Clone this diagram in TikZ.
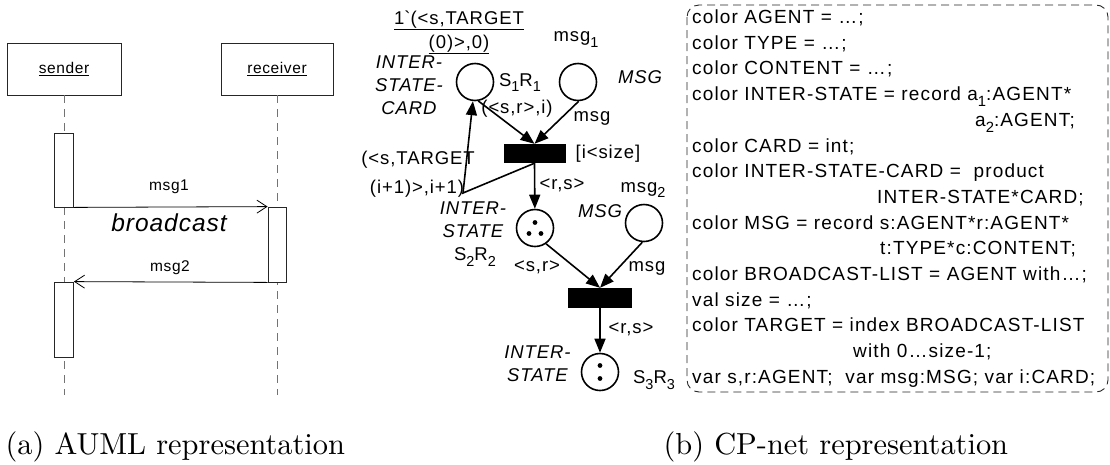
\documentclass[tikz,border=0pt]{standalone}
\usepackage{fontspec}
\usetikzlibrary{arrows.meta,calc}
\newfontfamily\seqfont[LetterSpace=4]{Liberation Sans}
\newfontfamily\netfont[LetterSpace=5]{Liberation Sans}
\newfontfamily\declfont[LetterSpace=6]{Liberation Sans}
\newcommand\seqsz{\seqfont\fontsize{15.5}{18}\selectfont}
\newcommand\netsz{\netfont\fontsize{18.5}{23}\selectfont}
\newcommand\declsz{\declfont\fontsize{19}{25.7}\selectfont}
% lowered, reduced index as in S1R1
\newcommand\idx[1]{\raisebox{-0.3em}{\scalebox{0.78}{#1}}}
\begin{document}
\begin{tikzpicture}[x=1pt,y=-1pt,
  objbox/.style={draw=black!85, line width=0.8pt, minimum height=52pt, inner sep=0pt, font=\seqsz},
  lifeline/.style={draw=black!55, line width=1pt, dash pattern=on 8pt off 6pt},
  actbar/.style={draw=black!85, fill=white, line width=0.8pt, minimum width=19pt, minimum height=75pt, inner sep=0pt},
  msgarrow/.style={line width=0.8pt, -{Straight Barb[length=10pt,width=13pt,line width=0.8pt]}},
  seqlab/.style={inner sep=0pt, font=\seqsz},
  place/.style={circle, draw, line width=1.6pt, minimum size=37pt, inner sep=0pt},
  trans/.style={fill=black, minimum width=62pt, minimum height=19pt, inner sep=0pt},
  arc/.style={line width=1.6pt, -{Triangle[length=14pt,width=11pt]}},
  netlab/.style={inner sep=0pt, font=\netsz, align=center},
  decl/.style={inner sep=0pt, anchor=base west, font=\declsz},
  capt/.style={inner sep=0pt, scale=3.04, anchor=west}
]
\useasboundingbox (0,0) rectangle (1110,464);

% ---------- sequence diagram ----------
\node[objbox, minimum width=114pt] (snd) at (64,69) {\underline{sender}};
\node[objbox, minimum width=112pt] (rcv) at (277,69) {\underline{receiver}};
\coordinate (sndend) at (64,395);
\coordinate (rcvend) at (277,395);
\draw[lifeline] (snd.south) -- (sndend);
\draw[lifeline] (rcv.south) -- (rcvend);

\node[actbar, minimum height=74pt] (sb1) at (64,170) {};
\node[actbar, minimum width=18pt] (rb) at (277,244.5) {};
\node[actbar] (sb2) at (64,319.5) {};

\draw[msgarrow] (sb1.south east) -- (rb.north west);
\draw[msgarrow] (rb.south west) -- (sb2.north east);

\node[seqlab] (m1) at (169,187) {msg1};
\node[inner sep=0pt, font=\seqfont\itshape\fontsize{24.5}{28}\selectfont] (bc) at (169,223) {broadcast};
\node[seqlab] (m2) at (170,268) {msg2};

% ---------- CP-net ----------
\node[place] (p1) at (475,82) {};
\node[place] (p2) at (578,82) {};
\node[trans] (t1) at (534.5,153.5) {};
\node[place] (p3) at (535,228) {};
\node[place] (p4) at (644,223) {};
\node[trans, minimum width=64pt, minimum height=20pt] (t2) at (600,298) {};
\node[place] (p5) at (600,372) {};

\fill ($(p3)+(0,-5.5)$) circle (2.4);
\fill ($(p3)+(-6,5.5)$) circle (2.4);
\fill ($(p3)+(6,5.5)$) circle (2.4);
\fill ($(p5)+(0,-6.5)$) circle (2.4);
\fill ($(p5)+(0,6.5)$) circle (2.4);

\coordinate (bend) at (463,193);
\draw[arc] (p1.-80) -- (t1.north);
\draw[arc] (p2.-88) -- (t1.north);
\draw[arc] (t1.south) -- (bend) -- (p1);
\draw[arc] (t1.south) -- (p3);
\draw[arc] (p3.-55) -- (t2.north);
\draw[arc] (p4.-95) -- (t2.north);
\draw[arc] (t2.south) -- (p5);

\node[netlab, anchor=base] (init1) at (459,24) {\underline{1\textasciigrave(<s,TARGET}};
\node[netlab, anchor=base] (init2) at (459,48) {\underline{(0)>,0)}};
\node[netlab, anchor=base] (n1) at (576,41.5) {msg\idx{1}};
\node[netlab, font=\netsz\itshape] (c1) at (409,85.5) {INTER-\\STATE-\\CARD};
\node[netlab] (s1) at (520,82.5) {S\idx{1}R\idx{1}};
\node[netlab, font=\netsz\itshape] (c2) at (640,77.5) {MSG};
\node[netlab] (a1) at (517,109) {(<s,r>,i)};
\node[netlab, anchor=base] (a2) at (592,121.5) {msg};
\node[netlab] (g1) at (608,154) {[i<size]};
\node[netlab] (a3) at (418,160) {(<s,TARGET};
\node[netlab] (a3b) at (417,189) {(i+1)>,i+1)};
\node[netlab] (a4) at (562,185) {<r,s>};
\node[netlab, font=\netsz\itshape] (c3) at (473,220) {INTER-\\STATE};
\node[netlab] (s2) at (475,257) {S\idx{2}R\idx{2}};
\node[netlab] (a5) at (537,267) {<s,r>};
\node[netlab, anchor=base] (n2) at (643,192) {msg\idx{2}};
\node[netlab, font=\netsz\itshape] (c4) at (600,211) {MSG};
\node[netlab, anchor=base] (a6) at (647,271.5) {msg};
\node[netlab] (a7) at (631,329) {<r,s>};
\node[netlab, font=\netsz\itshape] (c5) at (537.5,363.3) {INTER-\\STATE};
\node[netlab] (s3) at (654,380) {S\idx{3}R\idx{3}};

% ---------- declarations ----------
\draw[black!85, line width=0.9pt, dash pattern=on 8pt off 5pt, rounded corners=12pt]
  (687,5) rectangle (1108,392);
\node[decl] (d1) at (692,23.5) {color AGENT = …;};
\node[decl] (d2) at (692,49.2) {color TYPE = …;};
\node[decl] (d3) at (692,74.9) {color CONTENT = …;};
\node[decl] (d4) at (692,100.6) {color INTER-STATE = record a\idx{1}:AGENT*};
\node[decl] (d5) at (975,126.3) {a\idx{2}:AGENT;};
\node[decl] (d6) at (692,152.0) {color CARD = int;};
\node[decl] (d7) at (692,177.7) {color INTER-STATE-CARD = \ product};
\node[decl] (d8) at (877,203.4) {INTER-STATE*CARD;};
\node[decl] (d9) at (692,229.1) {color MSG = record s:AGENT*r:AGENT*};
\node[decl] (d10) at (880,254.8) {t:TYPE*c:CONTENT;};
\node[decl] (d11) at (692,280.5) {color BROADCAST-LIST = AGENT with…;};
\node[decl] (d12) at (692,306.2) {val size = …;};
\node[decl] (d13) at (692,331.9) {color TARGET = index BROADCAST-LIST};
\node[decl] (d14) at (853,357.6) {with 0…size-1;};
\node[decl] (d15) at (692,383.3) {var s,r:AGENT; \ var msg:MSG; var i:CARD;};

% ---------- captions ----------
\node[capt] (capa) at (5,447) {(a) AUML representation};
\node[capt] (capb) at (663,447) {(b) CP-net representation};
\end{tikzpicture}
\end{document}
